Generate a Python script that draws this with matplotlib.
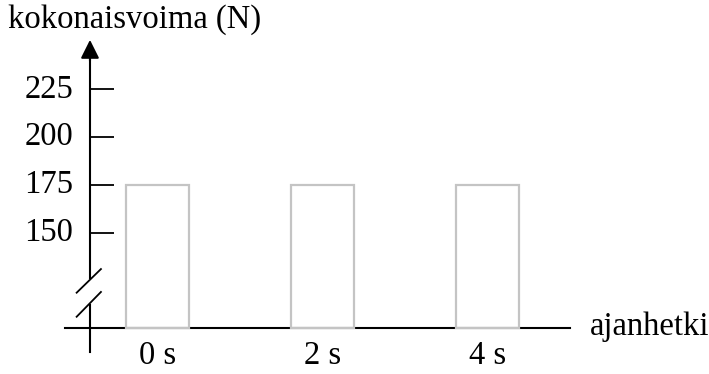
import matplotlib
matplotlib.use("Agg")
from matplotlib import pyplot as plt

# data
times = [0, 2, 4]
time_labels = ["0 s", "2 s", "4 s"]
forces = [175, 175, 175]
y_ticks = [150, 175, 200, 225]
y_base = 100  # value where the (broken) axis meets the time axis

plt.rcParams['font.family'] = ['Liberation Serif', 'DejaVu Serif']

fig = plt.figure(figsize=(7.09, 3.74), dpi=100)
ax = fig.add_axes([0, 0, 1, 1])
ax.set_xlim(-1.911, 6.693)
ax.set_ylim(75.9, 271.9)
ax.axis('off')

fs = 23.5
ax_x = -0.819

# time axis
ax.plot([-1.123, 5.006], [y_base, y_base], color='black', lw=1.5, zorder=1)

# bars (outline only)
heights = [f - y_base for f in forces]
ax.bar(times, heights, bottom=y_base, width=0.765, fill=False,
       edgecolor='#c4c4c4', lw=1.6, zorder=2)

# vertical axis with break
ax.plot([ax_x, ax_x], [87.4, 112.0], color='black', lw=1.5)
ax.plot([ax_x, ax_x], [126.2, 243], color='black', lw=1.5)
ax.annotate('', xy=(ax_x, 251.0), xytext=(ax_x, 240),
            arrowprops=dict(arrowstyle='-|>,head_length=0.8,head_width=0.4',
                            mutation_scale=14, color='black', lw=1.5,
                            shrinkA=0, shrinkB=0))
ax.plot([-0.981, -0.686], [118.5, 130.9], color='black', lw=1.3)
ax.plot([-0.981, -0.686], [105.9, 118.9], color='black', lw=1.3)

# y ticks
ax.hlines(y_ticks, ax_x, -0.528, color='black', lw=1.3)
for v in y_ticks:
    ax.text(-1.026, v, str(v), ha='right', va='center', fontsize=fs)

# x labels
for t, lab in zip(times, time_labels):
    ax.text(t, 85.5, lab, ha='center', va='center', fontsize=fs)

ax.text(5.248, 100.5, "ajanhetki", ha='left', va='center', fontsize=fs)
ax.text(-1.818, 261.4, "kokonaisvoima (N)", ha='left', va='center', fontsize=fs)

fig.savefig("out.png", dpi=100)
